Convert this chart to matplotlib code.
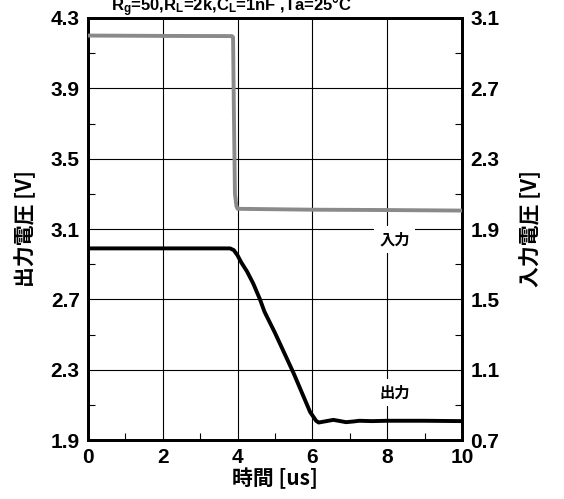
import matplotlib
matplotlib.use("Agg")
import matplotlib.pyplot as plt
from matplotlib.ticker import FixedLocator

plt.rcParams['font.family'] = ['Liberation Sans', 'Noto Sans CJK JP', 'DejaVu Sans']
plt.rcParams['font.weight'] = 'bold'
plt.rcParams['mathtext.fontset'] = 'custom'
plt.rcParams['mathtext.rm'] = 'Liberation Sans:bold'
plt.rcParams['mathtext.it'] = 'Liberation Sans:bold'

# Time axis [us]
t_out = [0, 3.8, 3.9, 4.0, 4.1, 4.25, 4.42, 4.6, 4.72, 5.0, 5.5, 5.94, 6.1, 6.17,
         6.3, 6.56, 6.75, 6.9, 7.1, 7.25, 7.6, 8.0, 9.0, 10.0]
# Output voltage [V]
v_out = [2.99, 2.99, 2.98, 2.95, 2.91, 2.86, 2.79, 2.70, 2.63, 2.51, 2.28, 2.06, 2.01, 2.00,
         2.005, 2.015, 2.008, 2.002, 2.006, 2.01, 2.008, 2.01, 2.01, 2.008]

t_in = [0, 2.0, 3.85, 3.88, 3.9, 3.93, 3.97, 4.0, 6.0, 8.0, 10.0]
# Input voltage [V]
v_in = [3.0, 2.998, 2.997, 2.99, 2.6, 2.1, 2.03, 2.015, 2.01, 2.008, 2.005]

x_ticks = [0, 2, 4, 6, 8, 10]
left_ticks = [1.9, 2.3, 2.7, 3.1, 3.5, 3.9, 4.3]
right_ticks = [0.7, 1.1, 1.5, 1.9, 2.3, 2.7, 3.1]

cjk = ['Noto Sans CJK JP', 'DejaVu Sans']

fig = plt.figure(figsize=(5.64, 4.99), dpi=100)
ax = fig.add_axes([0.156, 0.118, 0.663, 0.846])
ax2 = ax.twinx()

ax.plot(t_out, v_out, color='black', lw=2.8, solid_joinstyle='round', zorder=3)
ax2.plot(t_in, v_in, color='#8a8a8a', lw=2.8, solid_joinstyle='round', zorder=3)

ax.set_xlim(0, 10)
ax.set_ylim(1.9, 4.3)
ax2.set_ylim(0.7, 3.1)

ax.set_xticks(x_ticks)
ax.set_yticks(left_ticks)
ax2.set_yticks(right_ticks)
ax.xaxis.set_minor_locator(FixedLocator([1, 3, 5, 7, 9]))
ax.yaxis.set_minor_locator(FixedLocator([2.1, 2.5, 2.9, 3.3, 3.7, 4.1]))
ax2.yaxis.set_minor_locator(FixedLocator([0.9, 1.3, 1.7, 2.1, 2.5, 2.9]))

ax.grid(True, which='major', color='black', lw=0.8)
ax.tick_params(which='major', length=0, labelsize=15, pad=6)
ax.tick_params(which='minor', direction='in', length=5, width=0.8)
ax2.tick_params(which='major', length=0, labelsize=15, pad=6)
ax2.tick_params(which='minor', direction='in', length=5, width=0.8)

for a in (ax, ax2):
    for s in a.spines.values():
        s.set_linewidth(2.0)

for lbl in ax.get_xticklabels() + ax.get_yticklabels() + ax2.get_yticklabels():
    lbl.set_fontweight('bold')

ax.set_xlabel('時間 [us]', fontsize=15, fontweight='bold', labelpad=0, family=cjk)
ax.set_ylabel('出力電圧 [V]', fontsize=15, fontweight='bold', labelpad=10, family=cjk)
ax2.set_ylabel('入力電圧 [V]', fontsize=15, fontweight='bold', labelpad=14, family=cjk)

ax.text(8.2, 3.04, '入力', fontsize=11, fontweight='bold', ha='center', va='center',
        family=cjk, zorder=4, bbox=dict(facecolor='white', edgecolor='none', pad=4))
ax.text(8.2, 2.17, '出力', fontsize=11, fontweight='bold', ha='center', va='center',
        family=cjk, zorder=4, bbox=dict(facecolor='white', edgecolor='none', pad=4))

fig.text(0.41, 0.978, r'R$_{g}$=50,R$_{L}$=2k,C$_{L}$=1nF ,Ta=25°C', fontsize=12,
         fontweight='bold', ha='center', va='baseline')

fig.savefig('out.png', dpi=100)
